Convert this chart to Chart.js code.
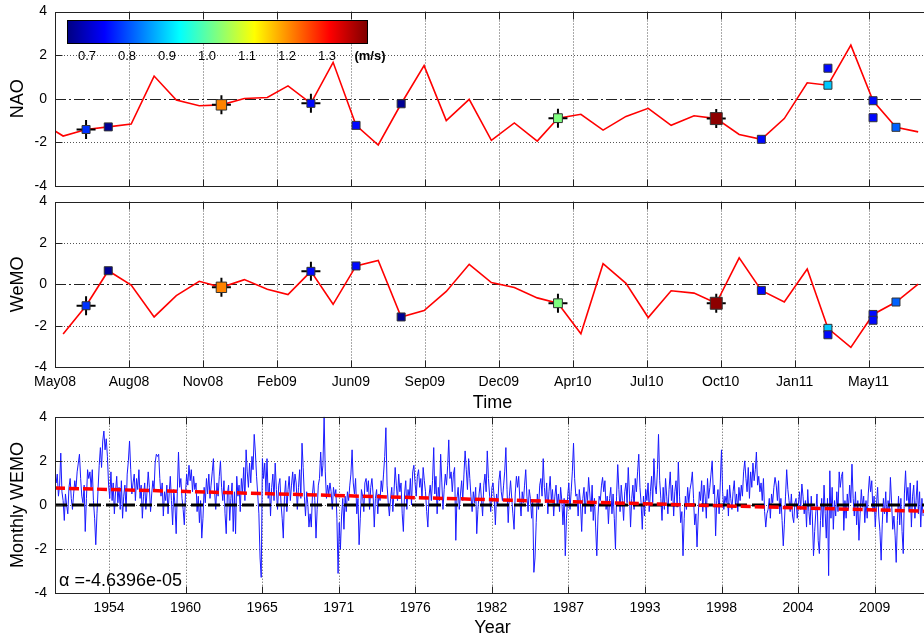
<!DOCTYPE html>
<html>
<head>
<meta charset="utf-8">
<title>NAO / WeMO</title>
<script src="https://cdn.jsdelivr.net/npm/chart.js@4.4.0/dist/chart.umd.min.js"></script>
<style>
  html, body { margin: 0; padding: 0; background: #fff; width: 924px; height: 641px; overflow: hidden; }
  canvas { position: absolute; left: 0; }
  #naoChart { top: 0; }
  #wemoChart { top: 190px; }
  #monthlyChart { top: 405px; }
</style>
</head>
<body>
<canvas id="naoChart" width="960" height="200"></canvas>
<canvas id="wemoChart" width="960" height="230"></canvas>
<canvas id="monthlyChart" width="960" height="236"></canvas>
<script>
const DAY = 86400000;

// ---- 2008-2011 monthly indices ----
const naoStartMonth = '2008-04';
const naoValues = [-1.07, -1.71, -1.41, -1.29, -1.16, 1.04, -0.06, -0.32, -0.28,
  0.01, 0.06, 0.59, -0.21, 1.67, -1.22, -2.12, -0.23, 1.52, -1.00, -0.03, -1.91,
  -1.11, -1.94, -0.89, -0.71, -1.44, -0.81, -0.44, -1.22, -0.78, -0.91, -1.64, -1.86,
  -0.91, 0.73, 0.62, 2.46, -0.09, -1.31, -1.52];

const wemoStartMonth = '2008-05';
const wemoValues = [-2.39, -1.03, 0.66, -0.03, -1.57, -0.54, 0.15, -0.14,
  0.23, -0.23, -0.49, 0.63, -0.96, 0.89, 1.16, -1.57, -1.26, -0.34, 0.97, 0.09,
  -0.15, -0.65, -0.91, -2.38, 1.00, 0.05, -1.60, -0.31, -0.42, -0.91, 1.28, -0.29,
  -0.85, 0.74, -2.12, -3.04, -1.45, -0.85, 0.01];

// events: month, index values, mean speed (m/s), highlighted with a cross
const eventMonths = ['2008-06', '2008-07', '2008-12', '2009-04', '2009-06', '2009-08', '2010-03',
  '2010-10', '2010-12', '2011-03', '2011-03', '2011-05', '2011-05', '2011-06'];
const eventNAO = [-1.41, -1.29, -0.28, -0.21, -1.22, -0.23, -0.89, -0.91, -1.86, 0.62, 1.40, -0.09, -0.87, -1.31];
const eventWeMO = [-1.03, 0.66, -0.14, 0.63, 0.89, -1.57, -0.91, -0.91, -0.29, -2.12, -2.43, -1.45, -1.73, -0.85];
const eventSpeed = [0.78, 0.665, 1.21, 0.75, 0.75, 0.665, 1.025, 1.39, 0.75, 0.89, 0.75, 0.75, 0.75, 0.815];
const eventMarked = [true, false, true, true, false, false, true, true, false, false, false, false, false, false];

const timeTickLabels = ['May08', 'Aug08', 'Nov08', 'Feb09', 'Jun09', 'Sep09', 'Dec09', 'Apr10', 'Jul10', 'Oct10', 'Jan11', 'May11'];
const colorbarTicks = [0.7, 0.8, 0.9, 1.0, 1.1, 1.2, 1.3];
const speedMin = 0.65, speedMax = 1.40;

// ---- monthly WEMO since January 1951 (one row per year) ----
const monthlyStart = '1951-01';
const wemoMonthly = [
  1.3, 1.0, 1.4, 0.4, 0.9, 2.35, 0.6, 0.2, -0.7, 0.5, 0.0, -0.4,
  0.8, 1.2, 0.3, -0.2, 0.5, 1.1, 0.7, 1.5, 1.9, 2.3, 1.2, 0.4,
  0.1, 0.9, -1.2, 0.3, 1.6, 1.2, 1.5, 0.8, 1.6, 0.2, -0.6, -1.8,
  -0.4, 0.8, 1.8, 2.6, 1.7, 2.9, 3.35, 2.5, 3.0, 2.2, 0.9, 0.3,
  1.5, 0.2, 1.0, -0.4, 0.6, 1.3, 0.1, 0.8, -0.2, 1.1, -0.6, 0.4,
  0.9, -0.3, 1.4, 2.0, 2.9, 1.6, 0.5, 1.0, 1.4, 0.2, 1.2, 0.7,
  1.6, 0.3, 0.9, -0.6, 0.4, 1.0, -0.2, 0.6, 1.5, 0.8, -0.3, 0.5,
  1.1, 0.7, 1.9, 2.3, 2.2, 2.3, 1.2, 0.4, 1.0, -0.5, 0.6, 0.2,
  0.9, -0.4, 0.5, 1.3, 0.2, -0.9, 0.7, 0.0, -1.3, 0.6, 2.4, 0.8,
  1.2, 0.3, -0.2, -0.9, 0.5, 1.4, 0.9, 1.8, 1.1, 1.6, 0.6, 1.3,
  0.7, 1.0, -0.3, 0.4, -0.8, 0.2, -1.5, -0.6, 0.8, 0.1, 1.2, 0.5,
  1.4, 0.3, 0.9, 1.5, 2.1, 0.6, -0.2, 1.0, 0.4, 1.3, 2.0, 0.8,
  0.2, 1.1, -0.4, -1.3, 0.5, 0.9, -0.7, 0.3, 1.0, -1.2, 0.6, -1.3,
  1.3, 0.4, 0.9, -0.3, 1.2, 0.6, 1.7, 0.2, 2.5, 1.5, 0.8, 1.9,
  1.0, 2.2, 1.6, 3.2, 2.4, 1.3, 0.5, -0.4, -2.4, -3.28, 2.1, 1.2,
  1.9, 0.6, 2.1, 0.3, 1.0, -0.5, 0.8, 1.4, 0.2, 1.9, 0.7, -0.2,
  0.9, 1.2, 0.1, -0.6, -1.5, 0.4, 1.1, -0.3, 0.7, 1.3, 0.2, 0.9,
  1.5, 0.6, 1.4, 1.0, -0.2, 0.8, 1.6, 0.3, 2.8, 1.7, 0.4, -0.5,
  0.6, 0.0, -1.0, -0.4, -1.0, 0.5, 1.1, 0.2, -1.5, -0.2, 0.9, 1.2,
  2.4, 1.3, 1.8, 4.0, 1.5, 0.3, 0.9, 0.5, 1.0, 0.6, -0.2, 0.8,
  0.4, 0.7, -0.6, -3.1, -0.8, -2.0, -0.5, 0.3, -1.1, 0.4, -0.3, 0.6,
  0.2, 0.9, 1.4, 2.5, 1.0, 0.5, 1.2, -0.4, 0.3, -1.8, -0.6, 0.7,
  0.4, -0.3, 1.0, 1.2, 0.6, 1.1, -0.2, 0.8, 1.2, 0.5, -1.0, 0.3,
  0.7, -0.4, 0.5, 0.2, 1.1, 0.6, 1.4, 2.2, 3.5, 0.9, 0.1, -0.5,
  0.3, 0.8, -0.3, 0.6, 1.7, 0.9, 0.2, 1.4, 0.6, 1.0, -0.4, -1.2,
  0.5, 1.1, -0.2, 0.7, 0.3, 1.2, 0.0, 1.5, 1.8, 1.0, 0.4, 1.3,
  1.6, 0.8, 1.2, 0.3, 1.7, 1.1, 0.6, -0.3, -1.0, 0.4, 0.9, 0.2,
  1.1, 2.6, 0.5, 1.3, -0.4, 0.8, 0.2, 2.3, 1.0, -0.2, 0.7, 1.4,
  0.9, 1.8, 2.95, 1.2, 1.5, 0.6, 1.4, 1.7, -1.6, 0.3, 0.8, -0.2,
  0.5, 1.1, 0.2, 1.4, 2.45, 1.6, 0.7, 2.1, 1.2, 0.4, -0.3, 0.6,
  0.1, 0.8, -1.3, -0.2, 0.5, 1.0, 0.3, -0.5, 0.9, 1.4, 0.6, 2.45,
  1.2, 0.4, -0.3, 0.8, 1.0, 0.3, -0.9, 0.5, 0.0, 1.1, 1.55, 0.6,
  0.2, 0.9, 1.5, 2.6, 0.7, -0.8, 0.4, 1.1, 0.3, -0.4, -1.1, 0.5,
  1.3, 0.8, 1.3, 0.2, -0.5, 0.6, 0.1, 0.9, 1.6, 0.4, -0.3, 0.7,
  0.3, -0.6, 0.2, -3.05, -2.4, -0.8, 0.5, -0.2, 0.9, 1.2, 0.4, 2.1,
  0.8, 0.1, 1.0, -0.4, 0.6, 1.3, 0.2, 0.7, -0.5, 0.4, 0.9, 0.0,
  0.5, -0.3, 0.8, 0.2, -0.9, 0.3, -2.3, -0.6, 0.4, 1.0, -0.2, 0.6,
  1.5, 2.8, 1.2, 0.4, 0.5, -0.5, 0.7, 0.1, -1.2, 0.3, 0.8, -0.4,
  0.6, 0.2, 1.25, 0.5, -0.3, 0.9, -0.7, 0.3, -1.0, -2.3, -0.5, 0.4,
  0.2, 0.9, 1.25, 0.6, 1.1, -0.2, 0.4, -0.85, 0.3, 0.8, -0.4, 0.5,
  -0.6, -2.0, 0.4, 1.83, 0.7, -0.3, 0.9, 0.2, -0.7, 0.6, 1.0, 0.1,
  1.7, 0.5, -1.0, 0.3, 0.9, -0.2, 1.2, 0.6, 1.5, 2.3, 0.8, 0.1,
  -1.1, 0.4, -0.5, 0.7, 0.2, 1.0, -0.3, 0.6, 1.3, 0.1, 2.1, 0.9,
  0.5, 1.6, 3.2, 1.1, 0.3, -0.7, 0.8, -0.2, 1.2, 0.4, -0.4, 0.7,
  1.5, 0.2, 0.9, -0.5, 0.6, 1.1, -0.1, 1.95, 0.4, -0.8, -0.3, -2.3,
  -0.6, 0.4, -0.2, 0.8, 0.1, 0.7, 1.0, 1.5, 0.3, -0.9, -0.4, -1.9,
  -0.5, 0.6, 0.2, 1.1, -0.3, 0.9, 0.4, -0.6, 1.2, 0.3, 0.8, 1.4,
  2.0, 0.5, 0.9, -1.4, 0.2, 0.7, -0.4, 1.0, 2.5, 0.6, -0.2, 0.4,
  0.1, 0.7, -0.5, 0.9, 0.3, -0.2, 0.6, 1.1, 0.0, 0.5, -0.3, 0.8,
  0.2, 0.9, 0.4, 1.5, 2.0, 1.2, 0.6, 1.7, 0.3, 1.5, 0.8, 1.9,
  1.1, 1.6, 2.4, 0.9, 1.3, 0.6, 1.0, 0.2, 1.2, -0.3, -1.0, -0.4,
  -0.2, 0.3, -0.6, 0.5, 0.1, 0.8, 1.25, 0.9, 0.2, 1.1, -0.4, 0.3,
  -0.7, -1.85, -0.9, 0.4, 1.6, 0.7, 0.2, -0.3, 0.5, -0.5, -0.8, 0.1,
  0.3, -0.6, 0.0, 0.6, -0.2, 0.95, 0.4, -0.4, 0.2, -1.0, 0.7, -0.3,
  -0.9, 0.4, -0.5, -2.3, -1.2, -0.3, 0.5, -1.6, -2.2, -0.7, 0.3, -1.0,
  0.9, -0.4, -1.5, 0.3, -3.2, 1.55, -0.6, 0.8, -1.1, 0.2, -0.5, 0.6,
  -0.3, 1.5, 0.8, 1.3, 1.5, -1.15, 0.2, -0.6, 0.5, -0.2, 0.9, 0.1,
  1.85, 0.3, -0.5, 0.6, -0.9, 0.2, -1.6, -0.4, 0.7, -0.1, 0.4, -0.8,
  0.2, -0.6, 0.5, 1.3, 0.6, 1.1, -0.3, 0.4, -1.0, 0.0, 0.8, -0.5,
  -1.2, -2.5, -0.9, 0.3, -0.4, 0.6, -0.8, 0.2, -0.3, 1.25, 0.1, -1.1,
  -0.5, -1.4, -2.6, -0.7, 0.4, -0.9, 0.3, -1.2, -2.2, 0.5, 1.55, 0.2,
  0.8, -0.3, 1.0, -1.0, 0.4, 0.9, -0.6, 0.2, 1.1, -0.4, 0.6, -1.0,
  0.3, -0.5
];
const yearTickLabels = ['1954', '1960', '1965', '1971', '1976', '1982', '1987', '1993', '1998', '2004', '2009'];
const trendAlpha = -4.6396e-05;   // slope per day
const trendStartValue = 0.77;     // fitted value at January 1951

// ---- axis ranges (days since 1970-01-01) ----
const timeAxisStart = Date.UTC(2008, 4, 4) / DAY;
const timeAxisSpan = 1183;
const timeTickStep = 100;
const yearAxisStart = Date.UTC(1951, 0, 1) / DAY;
const yearAxisSpan = 22857;
const yearFirstTick = Date.UTC(1954, 10, 12) / DAY;
const yearTickStep = 2000;

const FONT = '"Liberation Sans", Arial, Helvetica, sans-serif';
Chart.defaults.font.family = FONT;
Chart.defaults.color = '#000';

function monthDay(ym, offset, dayOfMonth) {
  const [y, m] = ym.split('-').map(Number);
  return Date.UTC(y, m - 1 + offset, dayOfMonth) / DAY;
}
function monthlyPoints(startYm, values, dayOfMonth) {
  return values.map((v, i) => ({ x: monthDay(startYm, i, dayOfMonth), y: v }));
}
function jet(t) {
  const c = v => Math.round(255 * Math.min(1, Math.max(0, v)));
  return `rgb(${c(1.5 - Math.abs(4 * t - 3))},${c(1.5 - Math.abs(4 * t - 2))},${c(1.5 - Math.abs(4 * t - 1))})`;
}
const speedColor = s => jet((s - speedMin) / (speedMax - speedMin));
// square side grows with speed
const squareRadius = s => Math.max(8, 8.6 * s) / (2 * Math.SQRT1_2);
// keep the plot box where it is, labels may hang over the edges
const noOverhang = s => { s.paddingTop = 0; s.paddingBottom = 0; s.paddingLeft = 0; s.paddingRight = 0; };

// dotted grid, dash-dot zero line, box and inward tick marks
const matlabAxes = {
  id: 'matlabAxes',
  beforeDatasetsDraw(chart, args, opts) {
    const { ctx, chartArea: a } = chart;
    const { x, y } = chart.scales;
    ctx.save();
    ctx.lineWidth = 1;
    ctx.strokeStyle = '#555';
    ctx.setLineDash([1, 2]);
    ctx.beginPath();
    x.ticks.forEach(t => {
      const px = Math.round(x.getPixelForValue(t.value)) + 0.5;
      if (px <= a.left + 1 || px >= a.right - 1) return;
      ctx.moveTo(px, a.top); ctx.lineTo(px, a.bottom);
    });
    y.ticks.forEach(t => {
      if (t.value === 0 && opts.zeroDashDot) return;
      const py = Math.round(y.getPixelForValue(t.value)) + 0.5;
      if (py <= a.top + 1 || py >= a.bottom - 1) return;
      ctx.moveTo(a.left, py); ctx.lineTo(a.right, py);
    });
    ctx.stroke();
    if (opts.zeroDashDot) {
      const py = Math.round(y.getPixelForValue(0)) + 0.5;
      ctx.strokeStyle = '#222';
      ctx.setLineDash([11, 3, 2, 3]);
      ctx.beginPath(); ctx.moveTo(a.left, py); ctx.lineTo(a.right, py); ctx.stroke();
    }
    ctx.restore();
  },
  afterDatasetsDraw(chart) {
    const { ctx, chartArea: a } = chart;
    const { x, y } = chart.scales;
    const L = Math.round(a.left) + 0.5, T = Math.round(a.top) + 0.5;
    const R = Math.round(a.right) + 0.5, B = Math.round(a.bottom) + 0.5;
    ctx.save();
    ctx.setLineDash([]);
    ctx.lineWidth = 1;
    ctx.strokeStyle = '#222';
    ctx.beginPath();
    x.ticks.forEach(t => {
      const px = Math.round(x.getPixelForValue(t.value)) + 0.5;
      ctx.moveTo(px, B); ctx.lineTo(px, B - 7);
      ctx.moveTo(px, T); ctx.lineTo(px, T + 7);
    });
    y.ticks.forEach(t => {
      const py = Math.round(y.getPixelForValue(t.value)) + 0.5;
      ctx.moveTo(L, py); ctx.lineTo(L + 7, py);
    });
    ctx.stroke();
    ctx.strokeRect(L, T, R - L, B - T);
    ctx.restore();
  }
};

// speed colour bar in the upper left of the NAO panel
const speedColorbar = {
  id: 'speedColorbar',
  afterDraw(chart) {
    const { ctx, chartArea: a } = chart;
    const x0 = a.left + 12, x1 = a.left + 312, y0 = a.top + 8.5, h = 23;
    const g = ctx.createLinearGradient(x0, 0, x1, 0);
    [0, 0.125, 0.375, 0.625, 0.875, 1].forEach(t => g.addColorStop(t, jet(t)));
    ctx.save();
    ctx.fillStyle = g;
    ctx.fillRect(x0, y0, x1 - x0, h);
    ctx.strokeStyle = '#000';
    ctx.lineWidth = 1;
    ctx.strokeRect(Math.round(x0) + 0.5, Math.round(y0) + 0.5, x1 - x0, h);
    ctx.fillStyle = '#000';
    ctx.textAlign = 'center';
    ctx.textBaseline = 'middle';
    ctx.font = '13px ' + FONT;
    colorbarTicks.forEach(v => {
      const px = x0 + (v - speedMin) / (speedMax - speedMin) * (x1 - x0);
      ctx.fillText(v.toFixed(1), px, y0 + h + 13);
    });
    ctx.font = 'bold 13px ' + FONT;
    ctx.fillText('(m/s)', x1 + 3, y0 + h + 13);
    ctx.restore();
  }
};

// slope annotation in the lower left of the monthly panel
function formatExp(v) {
  const [m, e] = v.toExponential(4).split('e');
  const n = Math.abs(Number(e));
  return m + 'e' + (Number(e) < 0 ? '-' : '+') + (n < 10 ? '0' : '') + n;
}
const alphaLabel = {
  id: 'alphaLabel',
  afterDraw(chart) {
    const { ctx, chartArea: a } = chart;
    ctx.save();
    ctx.fillStyle = '#000';
    ctx.font = '18px ' + FONT;
    ctx.textBaseline = 'middle';
    ctx.fillText('\u03b1 =' + formatExp(trendAlpha), a.left + 4, a.bottom - 12);
    ctx.restore();
  }
};

function yScale(title, titlePadTop) {
  return {
    min: -4, max: 4,
    afterFit: s => { s.width = 55; noOverhang(s); },
    grid: { display: false, drawTicks: false },
    border: { display: false },
    ticks: { stepSize: 2, padding: 8, font: { size: 14 } },
    title: { display: true, text: title, font: { size: 18 }, padding: { top: titlePadTop, bottom: 0 } }
  };
}
function timeXScale(showLabels, height) {
  return {
    type: 'linear',
    min: timeAxisStart, max: timeAxisStart + timeAxisSpan,
    afterFit: s => { s.height = height; noOverhang(s); },
    afterBuildTicks: s => {
      s.ticks = timeTickLabels.map((_, i) => ({ value: timeAxisStart + i * timeTickStep }));
    },
    grid: { display: false, drawTicks: false },
    border: { display: false },
    ticks: {
      display: showLabels, autoSkip: false, maxRotation: 0, minRotation: 0, padding: 6,
      font: { size: 14 }, callback: (v, i) => timeTickLabels[i]
    },
    title: { display: showLabels, text: 'Time', font: { size: 18 }, padding: { top: 0, bottom: 6 } }
  };
}

function eventDatasets(values) {
  const pts = eventMonths.map((m, i) => ({ x: monthDay(m, 0, 15), y: values[i] }));
  return [
    {
      data: pts,
      pointStyle: 'rect',
      pointRadius: eventSpeed.map(squareRadius),
      backgroundColor: eventSpeed.map(speedColor),
      borderColor: '#333',
      borderWidth: 1,
      showLine: false
    },
    {
      data: pts.filter((p, i) => eventMarked[i]),
      pointStyle: 'cross',
      pointRadius: 9.5,
      borderColor: '#000',
      borderWidth: 2,
      showLine: false
    }
  ];
}

function panelOptions(title, padding, xScale, extraPlugins) {
  return {
    responsive: false,
    animation: false,
    events: [],
    layout: { padding },
    scales: { x: xScale, y: yScale(title, 7) },
    plugins: Object.assign({ legend: { display: false }, tooltip: { enabled: false } }, extraPlugins)
  };
}

new Chart(document.getElementById('naoChart'), {
  type: 'scatter',
  data: {
    datasets: [
      ...eventDatasets(eventNAO),
      { data: monthlyPoints(naoStartMonth, naoValues, 15), showLine: true, borderColor: '#ff0000', borderWidth: 1.6, pointRadius: 0 }
    ]
  },
  options: panelOptions('NAO', { top: 8.5, right: 30, left: 0, bottom: 0 }, timeXScale(false, 14),
    { matlabAxes: { zeroDashDot: true } }),
  plugins: [matlabAxes, speedColorbar]
});

new Chart(document.getElementById('wemoChart'), {
  type: 'scatter',
  data: {
    datasets: [
      ...eventDatasets(eventWeMO),
      { data: monthlyPoints(wemoStartMonth, wemoValues, 15), showLine: true, borderColor: '#ff0000', borderWidth: 1.6, pointRadius: 0 }
    ]
  },
  options: panelOptions('WeMO', { top: 4.7, right: 30, left: 0, bottom: 0 }, timeXScale(true, 52.7),
    { matlabAxes: { zeroDashDot: true } }),
  plugins: [matlabAxes]
});

const yearAxisEnd = yearAxisStart + yearAxisSpan;
new Chart(document.getElementById('monthlyChart'), {
  type: 'scatter',
  data: {
    datasets: [
      {
        data: [{ x: yearAxisStart, y: trendStartValue }, { x: yearAxisEnd, y: trendStartValue + trendAlpha * yearAxisSpan }],
        showLine: true, borderColor: '#ff0000', borderWidth: 3.5, borderDash: [10, 4], pointRadius: 0
      },
      {
        data: [{ x: yearAxisStart, y: 0 }, { x: yearAxisEnd, y: 0 }],
        showLine: true, borderColor: '#000', borderWidth: 3, borderDash: [12, 5], pointRadius: 0
      },
      { data: monthlyPoints(monthlyStart, wemoMonthly, 1), showLine: true, borderColor: '#1a1aff', borderWidth: 1, pointRadius: 0 }
    ]
  },
  options: panelOptions('Monthly WEMO', { top: 11.7, right: 30, left: 0, bottom: 0 }, {
    type: 'linear',
    min: yearAxisStart, max: yearAxisEnd,
    afterFit: s => { s.height = 47.7; noOverhang(s); },
    afterBuildTicks: s => {
      s.ticks = yearTickLabels.map((_, i) => ({ value: yearFirstTick + i * yearTickStep }));
    },
    grid: { display: false, drawTicks: false },
    border: { display: false },
    ticks: {
      autoSkip: false, maxRotation: 0, minRotation: 0, padding: 6,
      font: { size: 14 }, callback: (v, i) => yearTickLabels[i]
    },
    title: { display: true, text: 'Year', font: { size: 18 }, padding: { top: 0, bottom: 2 } }
  }, { matlabAxes: { zeroDashDot: false } }),
  plugins: [matlabAxes, alphaLabel]
});
</script>
</body>
</html>
